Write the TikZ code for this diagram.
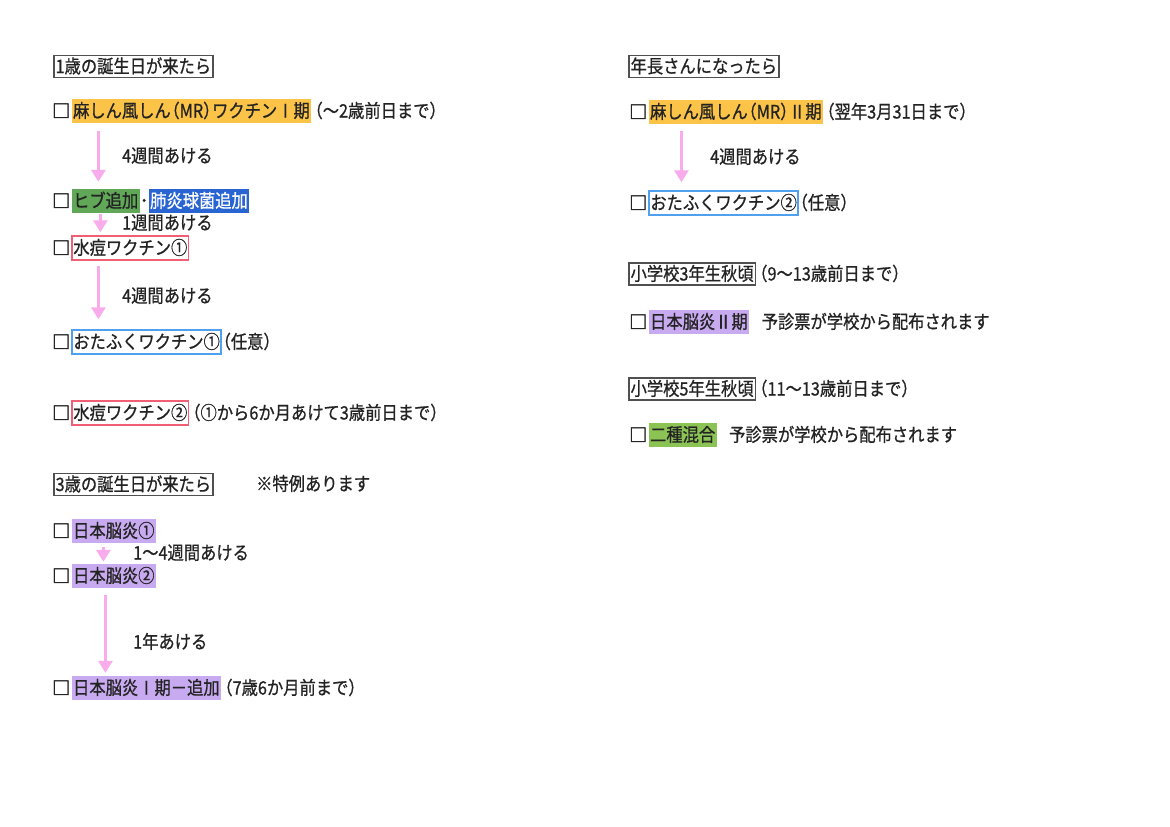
\documentclass[tikz,border=0pt]{standalone}
\usepackage{fontspec}
\setmainfont{Noto Sans CJK JP}[FakeBold=0.8, FakeStretch=0.88]
\newfontfamily\boxfont{Noto Sans CJK JP}[FakeBold=2]
\newcommand{\jlp}{\kern-0.4em（}
\newcommand{\jrp}{）\kern-0.4em}
\newcommand{\tlp}{\kern-0.28em（}
\newcommand{\trp}{）\kern-0.28em}
\usetikzlibrary{positioning,arrows.meta}
\definecolor{ink}{RGB}{35,35,35}
\definecolor{hlorange}{RGB}{251,196,72}
\definecolor{hlgreen}{RGB}{96,168,88}
\definecolor{hlgreenb}{RGB}{140,195,85}
\definecolor{hlblue}{RGB}{40,100,210}
\definecolor{hlpurple}{RGB}{200,170,240}
\definecolor{boxred}{RGB}{240,95,115}
\definecolor{boxblue}{RGB}{80,160,240}
\definecolor{hdrgray}{RGB}{80,80,80}
\definecolor{pinkarrow}{RGB}{249,172,235}
\begin{document}
\begin{tikzpicture}[x=1pt,y=-1pt,
  every node/.style={font=\fontsize{18.5pt}{21pt}\selectfont, text=ink, inner sep=0pt,
    text height=15pt, text depth=2pt, anchor=west},
  chk/.style={font=\boxfont\fontsize{18pt}{21pt}\selectfont},
  hl/.style={fill=#1, inner xsep=1.5pt, inner ysep=3.5pt},
  bx/.style={draw=#1, line width=1.5pt, inner xsep=1.2pt, inner ysep=3.5pt},
  hdr/.style={draw=hdrgray, line width=1.6pt, inner xsep=1.8pt, inner ysep=2.5pt},
  parrow/.style={draw=pinkarrow, line width=3.5pt, -{Triangle[width=14pt,length=12pt]}}]
\useasboundingbox[fill=white] (0,0) rectangle (1170,827);

% ---------- left column ----------
\node[hdr] (h1) at (53,66.5) {1歳の誕生日が来たら};

\node[chk] (c1) at (52,111) {□};
\node[hl=hlorange, right=1pt of c1] (mr1) {麻しん風しん\jlp MR\jrp ワクチンⅠ期};
\node[right=0pt of mr1] (mr1n) {\tlp～2歳前日まで\trp};

\node[chk] (c2) at (52,201) {□};
\node[hl=hlgreen, right=1pt of c2] (hib) {ヒブ追加};
\node[right=0pt of hib] (dot) {･};
\node[hl=hlblue, text=white, right=0pt of dot] (pneu) {肺炎球菌追加};

\draw[parrow, shorten <=8pt, shorten >=7pt] ([xshift=27pt]mr1.south west) -- ([xshift=27pt]hib.north west);
\node (l1) at (122,156) {4週間あける};

\node[chk] (c3) at (52,248) {□};
\node[bx=boxred, right=1pt of c3] (vz1) {水痘ワクチン①};

\draw[parrow, shorten <=1pt, shorten >=3pt] ([xshift=29pt]hib.south west) -- ([xshift=29pt]vz1.north west);
\node (l2) at (122,223) {1週間あける};

\node[chk] (c4) at (52,342) {□};
\node[bx=boxblue, right=1pt of c4] (mu1) {おたふくワクチン①};
\node[right=0pt of mu1] (mu1n) {\jlp 任意\jrp};

\draw[parrow, shorten <=5pt, shorten >=10pt] ([xshift=27pt]vz1.south west) -- ([xshift=27pt]mu1.north west);
\node (l3) at (122,296) {4週間あける};

\node[chk] (c5) at (52,413) {□};
\node[bx=boxred, right=1pt of c5] (vz2) {水痘ワクチン②};
\node[right=0pt of vz2] (vz2n) {\tlp ①から6か月あけて3歳前日まで\trp};

\node[hdr] (h2) at (53,484.5) {3歳の誕生日が来たら};
\node (h2n) at (256,484) {※特例あります};

\node[chk] (c6) at (52,531) {□};
\node[hl=hlpurple, right=1pt of c6] (je1) {日本脳炎①};

\node[chk] (c7) at (52,576) {□};
\node[hl=hlpurple, right=1pt of c7] (je2) {日本脳炎②};

\draw[parrow, shorten <=4pt, shorten >=2pt] ([xshift=32pt]je1.south west) -- ([xshift=32pt]je2.north west);
\node (l4) at (133,553) {1～4週間あける};

\node[chk] (c8) at (52,688) {□};
\node[hl=hlpurple, right=1pt of c8] (je3) {日本脳炎Ⅰ期－追加};
\node[right=0pt of je3] (je3n) {\tlp 7歳6か月前まで\trp};

\draw[parrow, shorten <=7pt, shorten >=3pt] ([xshift=34pt]je2.south west) -- ([xshift=34pt]je3.north west);
\node (l5) at (133,642) {1年あける};

% ---------- right column ----------
\node[hdr] (h3) at (628,66.5) {年長さんになったら};

\node[chk] (c9) at (629,112) {□};
\node[hl=hlorange, right=1pt of c9] (mr2) {麻しん風しん\jlp MR\jrp Ⅱ期};
\node[right=0pt of mr2] (mr2n) {\tlp 翌年3月31日まで\trp};

\node[chk] (c10) at (629,203) {□};
\node[bx=boxblue, right=1pt of c10] (mu2) {おたふくワクチン②};
\node[right=0pt of mu2] (mu2n) {\jlp 任意\jrp};

\draw[parrow, shorten <=7pt, shorten >=8pt] ([xshift=33pt]mr2.south west) -- ([xshift=33pt]mu2.north west);
\node (l6) at (710,157) {4週間あける};

\node[hdr] (h4) at (628,274) {小学校3年生秋頃};
\node[right=0pt of h4] (h4n) {\tlp 9～13歳前日まで\trp};

\node[chk] (c11) at (629,322) {□};
\node[hl=hlpurple, right=1pt of c11] (je4) {日本脳炎Ⅱ期};
\node[right=12pt of je4] (je4n) {予診票が学校から配布されます};

\node[hdr] (h5) at (628,389) {小学校5年生秋頃};
\node[right=0pt of h5] (h5n) {\tlp 11～13歳前日まで\trp};

\node[chk] (c12) at (629,435) {□};
\node[hl=hlgreenb, right=1pt of c12] (dtp) {二種混合};
\node[right=12pt of dtp] (dtpn) {予診票が学校から配布されます};
\end{tikzpicture}
\end{document}
